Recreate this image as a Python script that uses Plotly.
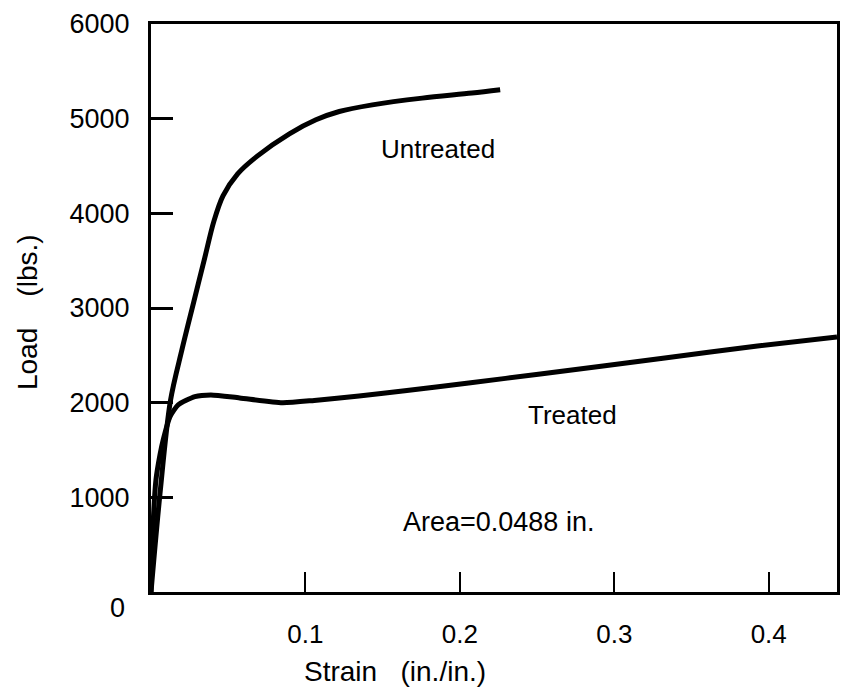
import plotly.graph_objects as go

# Data
untreated_strain = [0.0, 0.0058, 0.0126, 0.0200, 0.0277, 0.0348, 0.0406, 0.0466, 0.0561,
                    0.0690, 0.0896, 0.1068, 0.1219, 0.1433, 0.1756, 0.2078, 0.2261]
untreated_load = [0, 1036, 2022, 2557, 3065, 3530, 3910, 4185, 4417,
                  4607, 4840, 4988, 5076, 5146, 5217, 5270, 5305]

treated_strain = [0.0, 0.0015, 0.0032, 0.0058, 0.0079, 0.0123, 0.0176, 0.0284, 0.0388,
                  0.0574, 0.0851, 0.1057, 0.1347, 0.1657, 0.2057, 0.2521, 0.3327, 0.3927, 0.4442]
treated_load = [0, 761, 1184, 1448, 1606, 1852, 1976, 2064, 2082,
                2050, 2000, 2024, 2071, 2129, 2208, 2303, 2472, 2599, 2695]

x_ticks = [0.1, 0.2, 0.3, 0.4]
x_tick_labels = ["0.1", "0.2", "0.3", "0.4"]
y_ticks = [1000, 2000, 3000, 4000, 5000, 6000]
y_tick_labels = ["1000", "2000", "3000", "4000", "5000", "6000"]

FONT = "Liberation Sans, Arial, Helvetica, sans-serif"

fig = go.Figure()
fig.add_trace(go.Scatter(x=untreated_strain, y=untreated_load, mode="lines",
                         line=dict(color="black", width=5, shape="spline", smoothing=0.9),
                         name="Untreated", showlegend=False, hoverinfo="skip"))
fig.add_trace(go.Scatter(x=treated_strain, y=treated_load, mode="lines",
                         line=dict(color="black", width=5, shape="spline", smoothing=0.6),
                         name="Treated", showlegend=False, hoverinfo="skip"))

fig.update_layout(
    width=842, height=691,
    margin=dict(l=151, r=2, t=24, b=99, pad=0),
    paper_bgcolor="white", plot_bgcolor="white",
    font=dict(family=FONT, color="black"),
    showlegend=False,
)

fig.update_xaxes(
    range=[0, 0.4442], tickvals=x_ticks, ticktext=x_tick_labels,
    ticks="inside", ticklen=20, tickwidth=2, tickcolor="black",
    showline=True, linecolor="black", linewidth=3, mirror=True,
    showgrid=False, zeroline=False,
    tickfont=dict(family=FONT, size=26, color="black"),
    ticklabelstandoff=17,
)
fig.update_yaxes(
    range=[0, 6000], tickvals=y_ticks, ticktext=y_tick_labels,
    ticks="inside", ticklen=22, tickwidth=2.5, tickcolor="black",
    showline=True, linecolor="black", linewidth=3, mirror=True,
    showgrid=False, zeroline=False,
    tickfont=dict(family=FONT, size=27, color="black"),
    ticklabelstandoff=13,
)

NB = "\u00a0"
annotations = [
    dict(text="0", x=-0.049, y=-0.028, xref="paper", yref="paper",
         xanchor="center", yanchor="middle", font=dict(size=27)),
    dict(text="Untreated", x=0.1857, y=4681, xref="x", yref="y",
         xanchor="center", yanchor="middle", font=dict(size=26)),
    dict(text="Treated", x=0.2731, y=1870, xref="x", yref="y",
         xanchor="center", yanchor="middle", font=dict(size=26)),
    dict(text="Area=0.0488 in.", x=0.2252, y=740, xref="x", yref="y",
         xanchor="center", yanchor="middle", font=dict(size=27)),
    dict(text="Strain" + NB * 3 + "(in./in.)", x=0.3563, y=-0.1408, xref="paper", yref="paper",
         xanchor="center", yanchor="middle", font=dict(size=28)),
    dict(text="Load" + NB * 4 + "(lbs.)", x=-0.18, y=0.492, xref="paper", yref="paper",
         xanchor="center", yanchor="middle", textangle=-90, font=dict(size=28)),
]
for a in annotations:
    a["showarrow"] = False
    a["font"]["family"] = FONT
    a["font"]["color"] = "black"
fig.update_layout(annotations=annotations)

fig.write_html(
    "out.html",
    config={"displayModeBar": False},
    post_script="document.body.style.margin='0';document.body.style.overflow='hidden';",
)
